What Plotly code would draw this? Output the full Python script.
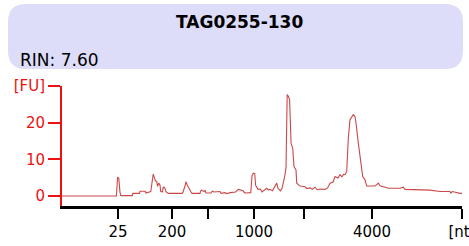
import plotly.graph_objects as go

# Electropherogram data: migration time (s) and fluorescence (FU)
time_s = [19.0, 25.8, 25.95, 26.1, 26.25, 26.35, 27.8, 27.85, 28.7, 28.75, 29.4, 29.5, 30.1, 30.2,
          30.4, 30.55, 30.66, 30.84, 30.95, 31.09, 31.25, 31.34, 31.55, 31.66, 31.85, 32.0, 32.29,
          34.0, 34.09, 34.35, 34.5, 34.65, 34.79, 34.95, 35.09, 35.25, 36.25, 36.35, 36.46, 36.75,
          36.88, 37.0, 37.29, 37.6, 37.8, 38.0, 38.75, 38.9, 39.38, 39.6, 40.0, 40.7, 41.04, 41.4,
          41.63, 41.8, 42.0, 42.6, 42.75, 42.91, 43.09, 43.2, 43.25, 43.5, 43.8, 44.0, 44.3, 44.59,
          44.8, 45.0, 45.3, 45.63, 45.84, 46.0, 46.3, 46.5, 46.66, 46.85, 47.0, 47.15, 47.29, 47.45,
          47.55, 47.63, 47.84, 48.0, 48.25, 48.34, 48.75, 49.38, 49.6, 50.0, 50.3, 50.63, 50.9,
          51.25, 51.88, 52.2, 52.5, 52.88, 53.13, 53.5, 53.75, 54.0, 54.2, 54.38, 54.59, 54.79,
          55.0, 55.25, 55.41, 55.63, 55.75, 56.04, 56.25, 56.5, 56.59, 56.88, 57.09, 58.13, 58.35,
          58.54, 58.75, 59.2, 59.79, 61.25, 61.66, 61.88, 63.75, 64.0, 65.0, 66.25, 67.5, 67.6,
          67.8, 68.75, 69.0]
fluorescence = [0.0, 0.0, 5.1, 4.8, 1.0, 0.1, 0.1, 0.7, 0.7, 1.3, 1.3, 0.8, 1.2, 3.5,
                6.0, 5.0, 4.2, 3.9, 2.6, 3.5, 3.0, 1.2, 1.1, 2.4, 2.2, 1.2, 0.7,
                0.7, 0.9, 2.5, 3.9, 3.0, 2.4, 1.5, 1.2, 0.7, 0.7, 1.4, 1.6, 1.2,
                1.5, 0.8, 0.7, 0.8, 1.3, 1.1, 1.2, 0.7, 0.9, 0.6, 0.9, 1.1, 1.8, 1.6,
                1.4, 0.9, 0.8, 0.9, 5.5, 6.2, 6.1, 3.0, 2.7, 1.8, 1.9, 1.1, 1.5, 2.1,
                1.6, 1.8, 1.4, 2.5, 3.5, 2.1, 1.4, 2.0, 3.5, 5.5, 7.6, 27.7, 27.2, 26.3,
                20.0, 14.4, 13.0, 8.0, 7.1, 3.5, 2.7, 2.5, 2.0, 2.2, 1.8, 2.4, 1.7,
                1.9, 1.8, 2.2, 3.5, 3.8, 5.3, 4.9, 5.8, 5.2, 5.9, 5.8, 6.7, 15.8,
                20.8, 21.9, 22.2, 21.6, 19.9, 14.4, 10.8, 8.0, 5.3, 4.4, 2.7, 2.7, 3.3,
                3.5, 2.8, 2.5, 2.1, 2.1, 2.4, 1.8, 1.8, 1.6, 1.6, 1.2, 1.2, 0.8,
                1.2, 0.7, 0.7]

# Ladder tick positions (migration time) and their size labels
x_tick_pos = [26.0, 32.75, 37.25, 43.0, 49.25, 57.75, 69.0]
x_tick_labels = ["25", "200", "", "1000", "", "4000", "[nt]"]
y_tick_vals = [0, 10, 20, 30]
y_tick_labels = ["0", "10", "20", "[FU]"]

sample_name = "TAG0255-130"
rin_text = "RIN: 7.60"

W, H = 469, 246
ML, MR, MT, MB = 62, 7, 86, 40
PW, PH = W - ML - MR, H - MT - MB

def px_to_paper_x(px):
    return (px - ML) / PW

def px_to_paper_y(py):
    return (H - MB - py) / PH

# rounded header box (pixel geometry converted to paper units)
bx0, bx1, by0, by1, r = 8, 463, 4, 69, 18
def P(x, y):
    return f"{px_to_paper_x(x):.5f},{px_to_paper_y(y):.5f}"
path = (f"M {P(bx0 + r, by0)} L {P(bx1 - r, by0)} Q {P(bx1, by0)} {P(bx1, by0 + r)} "
        f"L {P(bx1, by1 - r)} Q {P(bx1, by1)} {P(bx1 - r, by1)} "
        f"L {P(bx0 + r, by1)} Q {P(bx0, by1)} {P(bx0, by1 - r)} "
        f"L {P(bx0, by0 + r)} Q {P(bx0, by0)} {P(bx0 + r, by0)} Z")

fig = go.Figure()
fig.add_trace(go.Scatter(x=time_s, y=fluorescence, mode="lines",
                         line=dict(color="#cc4848", width=1.1), hoverinfo="skip"))

fig.add_shape(type="path", path=path, xref="paper", yref="paper",
              fillcolor="rgb(221,221,250)", line=dict(width=0), layer="below")

fig.add_annotation(x=px_to_paper_x(239), y=px_to_paper_y(22), xref="paper", yref="paper",
                   text=f"<b>{sample_name}</b>", showarrow=False, xanchor="center", yanchor="middle",
                   font=dict(family="DejaVu Sans", size=17, color="black"))
fig.add_annotation(x=px_to_paper_x(18), y=px_to_paper_y(60), xref="paper", yref="paper",
                   text=rin_text, showarrow=False, xanchor="left", yanchor="middle",
                   font=dict(family="DejaVu Sans", size=17, color="black"))

fig.update_layout(
    width=W, height=H,
    margin=dict(l=ML, r=MR, t=MT, b=MB, pad=0, autoexpand=False),
    paper_bgcolor="white", plot_bgcolor="white",
    showlegend=False,
    xaxis=dict(range=[19, 69], tickmode="array", tickvals=x_tick_pos, ticktext=x_tick_labels,
               automargin=False, ticklabeloverflow="allow",
               showgrid=False, zeroline=False, showline=True, linecolor="black", linewidth=3,
               ticks="outside", ticklen=10, tickwidth=2, tickcolor="black",
               tickfont=dict(family="DejaVu Sans", size=15, color="black")),
    yaxis=dict(range=[-2.74, 30], tickmode="array", tickvals=y_tick_vals, ticktext=y_tick_labels,
               automargin=False,
               showgrid=False, zeroline=False, showline=True, linecolor="#ee1111", linewidth=2,
               ticks="outside", ticklen=12, tickwidth=2, tickcolor="#ee1111",
               tickfont=dict(family="DejaVu Sans", size=15, color="#ee1111")),
)

fig.write_html("out.html", config={"displayModeBar": False},
               post_script="document.body.style.margin='0';document.body.style.padding='0';")
